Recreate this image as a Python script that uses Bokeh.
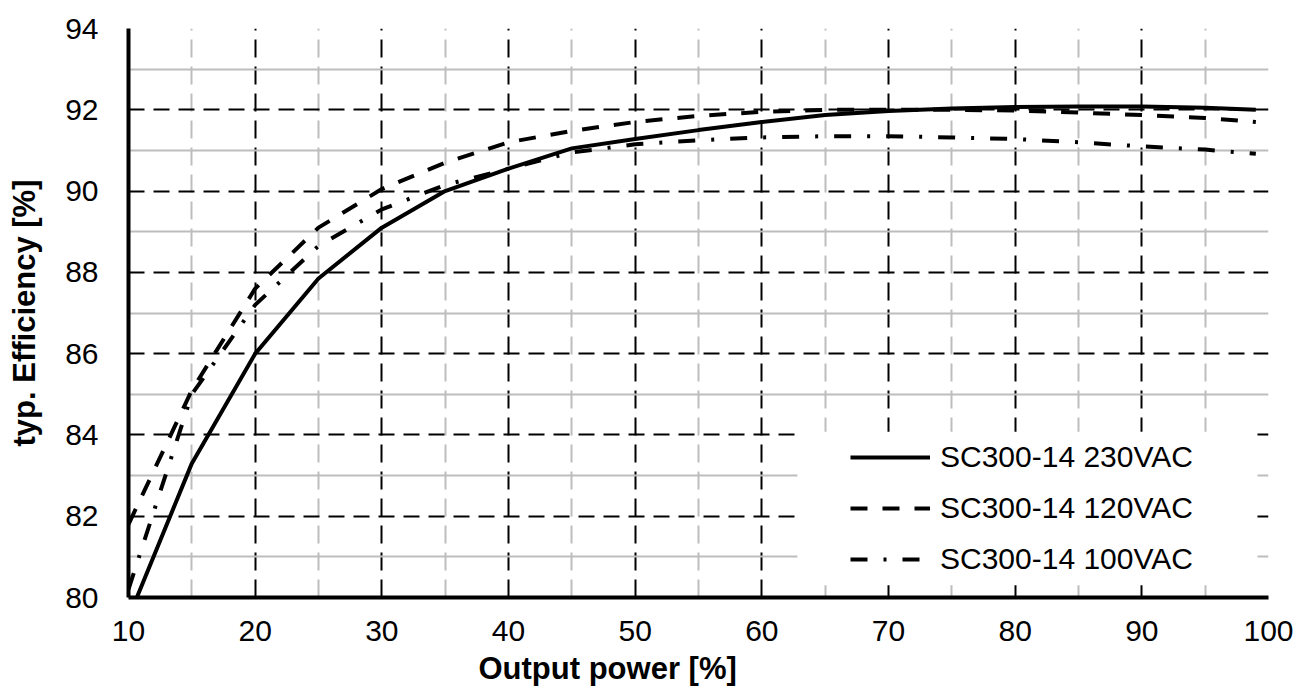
from bokeh.plotting import figure
from bokeh.models import (Range1d, FixedTicker, Legend, LegendItem,
                          BoxAnnotation, Title)
from bokeh.embed import file_html
from bokeh.resources import INLINE

# ---- data ----
power = [10, 15, 20, 25, 30, 35, 40, 45, 50, 55, 60, 65, 70, 75, 80, 85, 90, 95, 99]
eff_230 = [79.5, 83.3, 86.0, 87.85, 89.1, 90.0, 90.55, 91.05, 91.28, 91.5, 91.7,
           91.87, 91.97, 92.03, 92.07, 92.08, 92.08, 92.05, 92.0]
eff_120 = [81.8, 85.1, 87.6, 89.1, 90.05, 90.7, 91.2, 91.48, 91.7, 91.85, 91.95,
           92.0, 92.0, 92.0, 91.98, 91.93, 91.87, 91.8, 91.7]
eff_100 = [80.2, 85.0, 87.2, 88.65, 89.55, 90.15, 90.55, 90.95, 91.15, 91.25, 91.32,
           91.35, 91.35, 91.32, 91.28, 91.2, 91.1, 91.02, 90.92]
series_names = ["SC300-14 230VAC", "SC300-14 120VAC", "SC300-14 100VAC"]

x_ticks = [10, 20, 30, 40, 50, 60, 70, 80, 90, 100]
x_minor = [15, 25, 35, 45, 55, 65, 75, 85, 95]
y_ticks = [80, 82, 84, 86, 88, 90, 92, 94]
y_minor = [81, 83, 85, 87, 89, 91, 93]
x_title = "Output power [%]"
y_title = "typ. Efficiency [%]"

FONT = "Liberation Sans"

p = figure(width=1296, height=690, output_backend="svg", toolbar_location=None,
           x_range=Range1d(10, 100), y_range=Range1d(80, 94),
           min_border_left=128, min_border_right=28, min_border_top=28,
           min_border_bottom=93)
p.outline_line_color = None
p.background_fill_color = "white"
p.border_fill_color = "white"

# axes
p.xaxis.ticker = FixedTicker(ticks=x_ticks, minor_ticks=x_minor)
p.yaxis.ticker = FixedTicker(ticks=y_ticks, minor_ticks=y_minor)
for ax in (p.xaxis, p.yaxis):
    ax.axis_line_width = 4
    ax.axis_line_color = "black"
    ax.major_tick_line_color = None
    ax.minor_tick_line_color = None
    ax.major_label_text_font = FONT
    ax.major_label_text_font_size = "30px"
    ax.major_label_text_color = "black"
p.xaxis.major_label_standoff = 17
p.yaxis.major_label_standoff = 24

p.yaxis.axis_label = y_title
p.yaxis.axis_label_text_font = FONT
p.yaxis.axis_label_text_font_size = "31px"
p.yaxis.axis_label_text_font_style = "bold"
p.yaxis.axis_label_text_color = "black"
p.yaxis.axis_label_standoff = 20

# grids
p.xgrid.grid_line_color = "black"
p.xgrid.grid_line_width = 2
p.xgrid.grid_line_dash = "18 9"
p.xgrid.minor_grid_line_color = "#bdbdbd"
p.xgrid.minor_grid_line_width = 2
p.xgrid.minor_grid_line_dash = "18 9"
p.ygrid.grid_line_color = "black"
p.ygrid.grid_line_width = 2
p.ygrid.grid_line_dash = "16 9"
p.ygrid.minor_grid_line_color = "#bdbdbd"
p.ygrid.minor_grid_line_width = 2

# lines
r1 = p.line(power, eff_230, line_color="black", line_width=4)
r2 = p.line(power, eff_120, line_color="black", line_width=4, line_dash="17 15")
r3 = p.line(power, eff_100, line_color="black", line_width=4, line_dash="17 16 3 16")

# white area behind legend
p.add_layout(BoxAnnotation(left=62.81, right=99.13, bottom=80.30, top=84.08,
                           fill_color="white", fill_alpha=1.0, line_color=None,
                           level="underlay"))

legend = Legend(items=[LegendItem(label=series_names[0], renderers=[r1]),
                       LegendItem(label=series_names[1], renderers=[r2]),
                       LegendItem(label=series_names[2], renderers=[r3])],
                location=(712, 8), padding=10, spacing=11,
                glyph_width=80, glyph_height=40, label_height=40,
                label_standoff=10, label_text_font=FONT,
                label_text_font_size="30px", label_text_color="black",
                background_fill_alpha=0, border_line_alpha=0, margin=0)
p.add_layout(legend)

# x-axis title placed as a title below the axis (off-centre as in the reference)
p.add_layout(Title(text=x_title, align="left", offset=350, standoff=10,
                   vertical_align="bottom", text_font=FONT,
                   text_font_size="31px", text_font_style="bold",
                   text_color="black"), "below")

open("out.html", "w").write(file_html(p, INLINE))
